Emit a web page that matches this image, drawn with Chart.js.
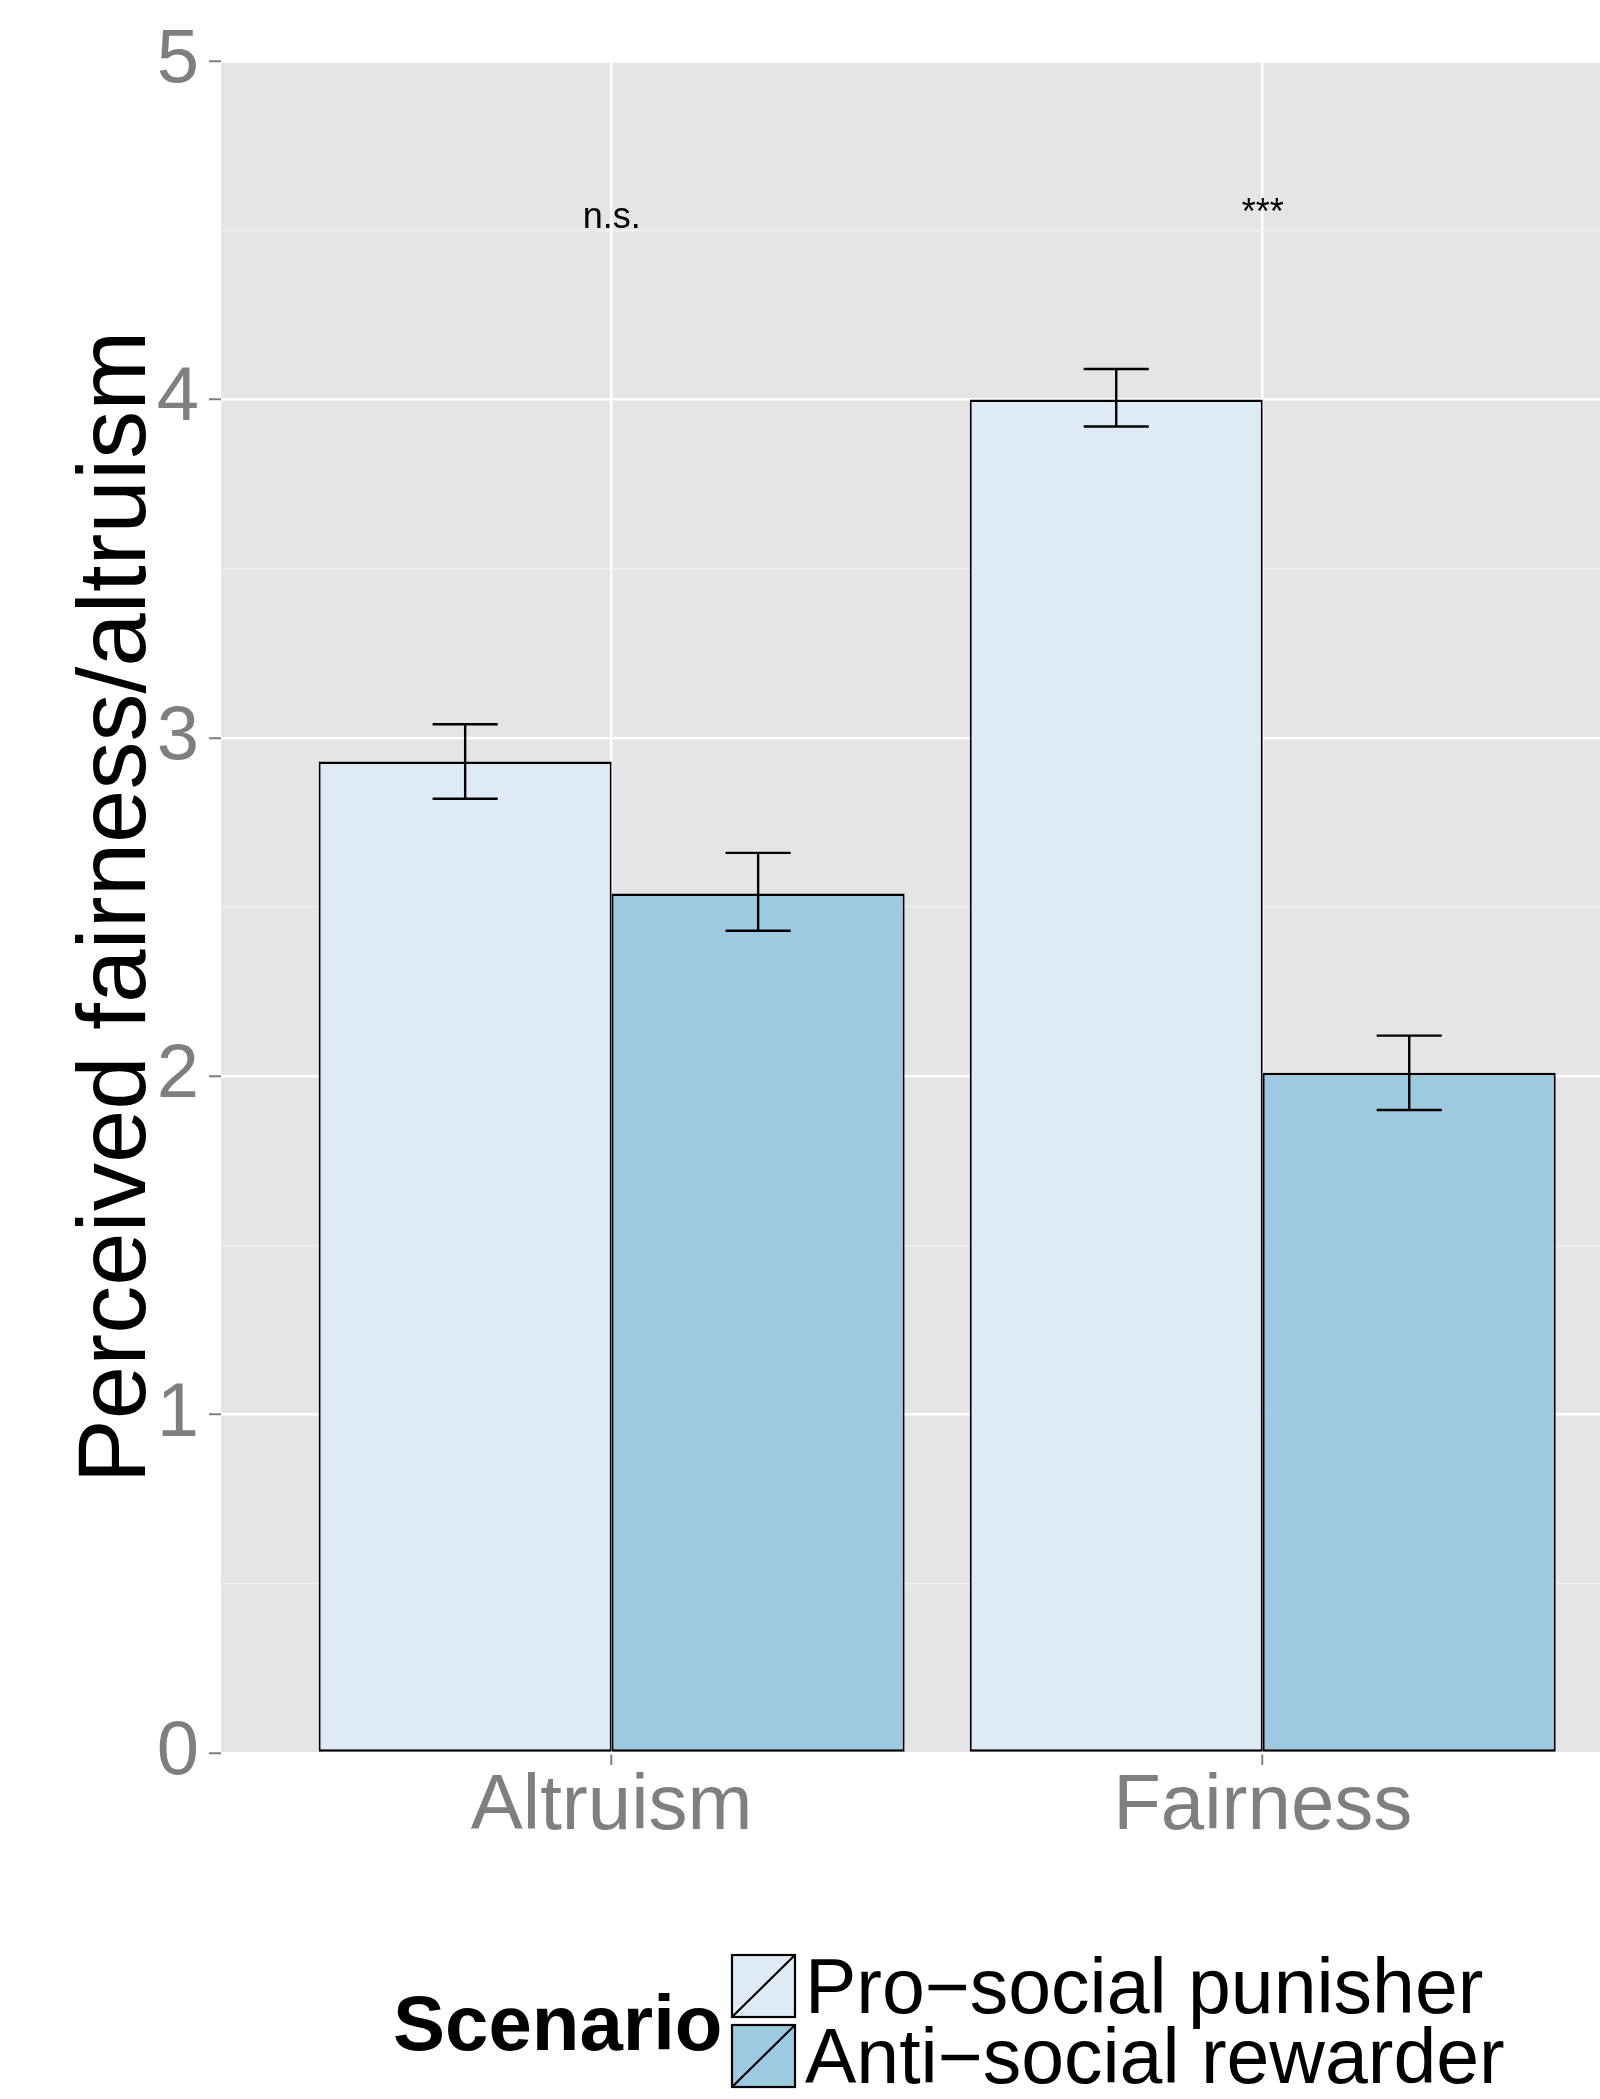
<!DOCTYPE html>
<html lang="en">
<head>
<meta charset="UTF-8">
<title>Perceived fairness/altruism</title>
<script src="https://cdn.jsdelivr.net/npm/chart.js@4.4.0/dist/chart.umd.min.js"></script>
<style>
  html, body { margin: 0; padding: 0; background: #fff; overflow: hidden; }
  canvas { display: block; }
</style>
</head>
<body>
<canvas id="chart" width="1600" height="2099"></canvas>
<script>
// data
const categories = ['Altruism', 'Fairness'];
const scenarios = ['Pro\u2212social punisher', 'Anti\u2212social rewarder'];
const proSocial = [2.93, 4.00];
const antiSocial = [2.54, 2.01];
const proSocialLow = [2.82, 3.92];
const proSocialHigh = [3.04, 4.09];
const antiSocialLow = [2.43, 1.90];
const antiSocialHigh = [2.66, 2.12];
const signifLabels = ['n.s.', '***'];
const signifY = 4.5;
const yTicks = [0, 1, 2, 3, 4, 5];

const fills = ['#DEEBF7', '#9ECAE1'];
const errLow = [proSocialLow, antiSocialLow];
const errHigh = [proSocialHigh, antiSocialHigh];
const FONT = "'Liberation Sans', Arial, Helvetica, sans-serif";

Chart.defaults.font.family = FONT;

// grey panel behind everything
const panelBg = {
    id: 'panelBg',
    beforeDraw(chart) {
        const {ctx, chartArea: a} = chart;
        ctx.save();
        ctx.fillStyle = '#FFFFFF';
        ctx.fillRect(0, 0, chart.width, chart.height);
        ctx.fillStyle = '#E5E5E5';
        ctx.fillRect(a.left, a.top, a.right - a.left, a.bottom - a.top);
        ctx.restore();
    }
};

// error bars + significance labels
const extras = {
    id: 'extras',
    afterDatasetsDraw(chart) {
        const {ctx, scales: {x, y}} = chart;
        const half = x.getPixelForValue(1.05) - x.getPixelForValue(1);
        ctx.save();
        ctx.strokeStyle = '#000';
        ctx.lineWidth = 2.4;
        chart.data.datasets.forEach((ds, d) => {
            chart.getDatasetMeta(d).data.forEach((el, i) => {
                const lo = y.getPixelForValue(errLow[d][i]);
                const hi = y.getPixelForValue(errHigh[d][i]);
                ctx.beginPath();
                ctx.moveTo(el.x, lo); ctx.lineTo(el.x, hi);
                ctx.moveTo(el.x - half, lo); ctx.lineTo(el.x + half, lo);
                ctx.moveTo(el.x - half, hi); ctx.lineTo(el.x + half, hi);
                ctx.stroke();
            });
        });
        ctx.fillStyle = '#000';
        ctx.font = '36px ' + FONT;
        ctx.textAlign = 'center';
        ctx.textBaseline = 'alphabetic';
        signifLabels.forEach((t, i) => {
            const lift = t === '***' ? 4 : 0;
            ctx.fillText(t, x.getPixelForValue(i + 1), y.getPixelForValue(signifY) - 2 - lift);
        });
        ctx.restore();
    }
};

// ggplot style legend: title on the left, keys stacked
const sideLegend = {
    id: 'sideLegend',
    afterDraw(chart) {
        const {ctx} = chart;
        const keyX = 732, keyW = 63, keyH = 62, keyY = [1955, 2025];
        ctx.save();
        ctx.fillStyle = '#000';
        ctx.font = 'bold 78px ' + FONT;
        ctx.textAlign = 'left';
        ctx.textBaseline = 'alphabetic';
        ctx.fillText('Scenario', 393, 2050);
        chart.data.datasets.forEach((ds, d) => {
            const ky = keyY[d];
            ctx.fillStyle = ds.backgroundColor;
            ctx.fillRect(keyX, ky, keyW, keyH);
            ctx.strokeStyle = '#000';
            ctx.lineWidth = 2.2;
            ctx.strokeRect(keyX, ky, keyW, keyH);
            ctx.beginPath();
            ctx.moveTo(keyX, ky + keyH);
            ctx.lineTo(keyX + keyW, ky);
            ctx.stroke();
            ctx.fillStyle = '#000';
            ctx.font = '77px ' + FONT;
            ctx.fillText(ds.label, 805, ky + 58);
        });
        ctx.restore();
    }
};

const makeData = vals => vals.map((v, i) => ({x: i + 1, y: v}));

new Chart(document.getElementById('chart'), {
    type: 'bar',
    data: {
        datasets: [proSocial, antiSocial].map((vals, d) => ({
            label: scenarios[d],
            data: makeData(vals),
            backgroundColor: fills[d],
            borderColor: '#000000',
            borderWidth: {top: 2.5, bottom: 2.5, left: 2, right: 2},
            borderSkipped: false,
            categoryPercentage: 0.9,
            barPercentage: 1
        }))
    },
    options: {
        responsive: false,
        animation: false,
        layout: {padding: {top: 61, right: 0, bottom: 0, left: 0}},
        plugins: {legend: {display: false}, tooltip: {enabled: false}},
        scales: {
            x: {
                type: 'linear',
                min: 0.4,
                max: 2.518,
                offset: false,
                afterBuildTicks: s => { s.ticks = categories.map((c, i) => ({value: i + 1})); },
                afterFit: s => { s.height = 346; },
                ticks: {
                    callback: v => categories[v - 1] || '',
                    color: '#7F7F7F',
                    font: {size: 78, lineHeight: 1},
                    padding: 3,
                    maxRotation: 0,
                    autoSkip: false
                },
                grid: {
                    offset: false,
                    color: '#FFFFFF',
                    lineWidth: 2.5,
                    tickColor: '#7F7F7F',
                    tickLength: 12,
                    tickWidth: 2
                },
                border: {display: false}
            },
            y: {
                min: 0,
                max: 5,
                afterFit: s => { s.width = 221; },
                ticks: {
                    stepSize: 0.5,
                    callback: v => yTicks.includes(v) ? String(v) : '',
                    color: '#7F7F7F',
                    font: {size: 76},
                    padding: 10
                },
                grid: {
                    color: c => (c.tick && c.tick.value % 1 === 0) ? '#FFFFFF' : '#F2F2F2',
                    lineWidth: c => (c.tick && c.tick.value % 1 === 0) ? 2.5 : 1.2,
                    tickColor: c => (c.tick && c.tick.value % 1 === 0) ? '#7F7F7F' : 'rgba(0,0,0,0)',
                    tickLength: 12,
                    tickWidth: 2
                },
                border: {display: false},
                title: {
                    display: true,
                    text: 'Perceived fairness/altruism',
                    color: '#000000',
                    font: {size: 96},
                    padding: {top: 61, bottom: 0}
                }
            }
        }
    },
    plugins: [panelBg, extras, sideLegend]
});
</script>
</body>
</html>
